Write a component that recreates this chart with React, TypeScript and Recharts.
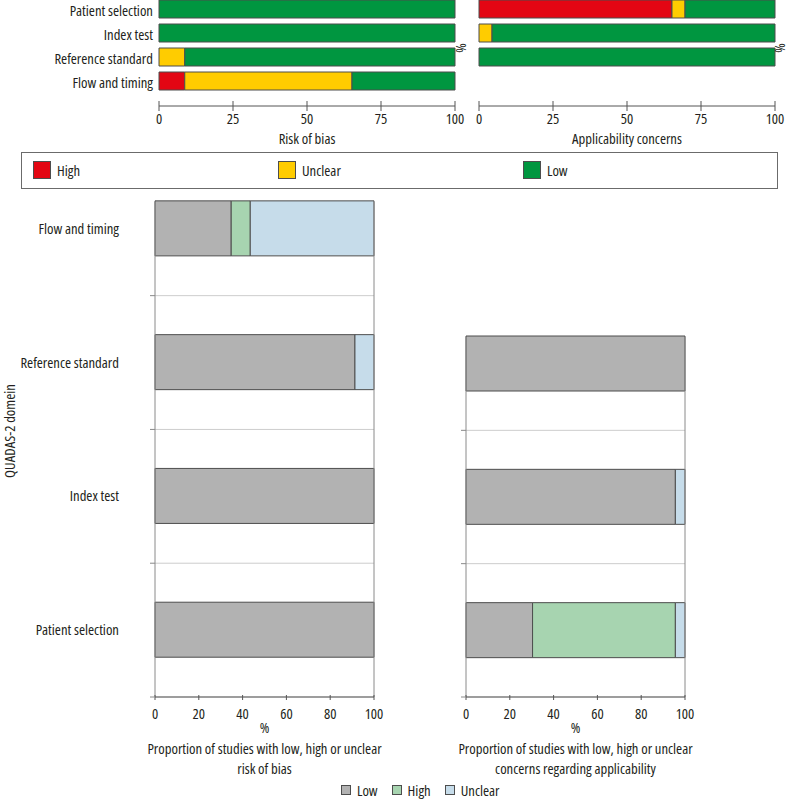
import React from 'react';
import { BarChart, Bar, XAxis, YAxis, CartesianGrid, Legend, ReferenceLine, Label } from 'recharts';

const domains = ['Patient selection', 'Index test', 'Reference standard', 'Flow and timing'];

// risk of bias, % of studies (same order as domains)
const biasHigh = [0, 0, 0, 8.7];
const biasUnclear = [0, 0, 8.7, 56.5];
const biasLow = [100, 100, 91.3, 34.8];

// applicability concerns, % of studies (flow and timing not rated)
const applHigh = [65.2, 0, 0, 0];
const applUnclear = [4.4, 4.4, 0, 0];
const applLow = [30.4, 95.6, 100, 0];

const topTicks = [0, 25, 50, 75, 100];
const bottomTicks = [0, 20, 40, 60, 80, 100];

const FONT = '"Open Sans", "Liberation Sans", sans-serif';
const INK = '#231f20';
const EDGE = '#4d4d4d';
const AXIS = '#555';
const SOFT_AXIS = '#8a8a8a';
const GRID = '#cdcdcd';
const FS = 14.7;

const RED = '#e30613';
const YELLOW = '#ffcc00';
const GREEN = '#009640';
const GREY = '#b2b2b2';
const PALE_GREEN = '#a7d4b0';
const PALE_BLUE = '#c6dcea';

const biasRows = domains.map((d, i) => ({ domain: d, pos: i, high: biasHigh[i], unclear: biasUnclear[i], low: biasLow[i] }));
const applRows = domains.map((d, i) => ({ domain: d, pos: i, high: applHigh[i], unclear: applUnclear[i], low: applLow[i] }));
const applRowsBottom = applRows.slice(0, 3);

// band edges + band centres for the numeric domain axis
const bandTicks = (n: number) => Array.from({ length: n }, (_, i) => [i - 0.5, i]).flat();

const TopTick = (props: any) => {
  const { x, y, payload } = props;
  return (
    <g>
      <line x1={x} x2={x} y1={y - 5} y2={y + 5} stroke={AXIS} />
      <text x={x} y={y + 18} textAnchor="middle" fontSize={FS} fill={INK}>
        {payload.value}
      </text>
    </g>
  );
};

const BottomTick = (props: any) => {
  const { x, y, payload } = props;
  return (
    <g>
      <line x1={x} x2={x} y1={y - 2} y2={y + 3} stroke={AXIS} />
      <text x={x} y={y + 22} textAnchor="middle" fontSize={FS} fill={INK}>
        {payload.value}
      </text>
    </g>
  );
};

const makeDomainTick = (names: string[] | null) => (props: any) => {
  const { x, y, payload } = props;
  const v = payload.value;
  if (Number.isInteger(v)) {
    if (!names) return <g />;
    return (
      <text x={x - 36} y={y + 5} textAnchor="end" fontSize={FS} fill={INK}>
        {names[v]}
      </text>
    );
  }
  return <line x1={x - 5} x2={x} y1={y} y2={y} stroke={SOFT_AXIS} />;
};

const titleBlock = (lines: string[]) => (props: any) => {
  const { x, y, width } = props.viewBox;
  const cx = x + width / 2;
  return (
    <g fontSize={FS} fill={INK} textAnchor="middle">
      <text x={cx} y={y + 36}>%</text>
      {lines.map((l, i) => (
        <text key={i} x={cx} y={y + 57 + i * 20}>
          {l}
        </text>
      ))}
    </g>
  );
};

const orderBy = (payload: any[], names: string[]) =>
  [...(payload || [])].sort((a, b) => names.indexOf(a.value) - names.indexOf(b.value));

const BoxLegend = (props: any) => {
  const items = orderBy(props.payload, ['High', 'Unclear', 'Low']);
  return (
    <div style={{ position: 'relative', width: 757, height: 37, boxSizing: 'border-box', border: '1px solid #6b6b6b', fontSize: FS, color: INK }}>
      {items.map((p, i) => (
        <div key={p.value} style={{ position: 'absolute', left: 11 + i * 245, top: 8, display: 'flex', alignItems: 'center', height: 18 }}>
          <span style={{ width: 18, height: 18, boxSizing: 'border-box', background: p.color, border: `1px solid ${EDGE}` }} />
          <span style={{ marginLeft: 6 }}>{p.value}</span>
        </div>
      ))}
    </div>
  );
};

const SmallLegend = (props: any) => {
  const items = orderBy(props.payload, ['Low', 'High', 'Unclear']);
  return (
    <div style={{ display: 'flex', alignItems: 'center', gap: 14, fontSize: FS, color: INK, lineHeight: '16px' }}>
      {items.map((p) => (
        <div key={p.value} style={{ display: 'flex', alignItems: 'center' }}>
          <span style={{ width: 10, height: 10, boxSizing: 'border-box', background: p.color, border: `1px solid ${EDGE}` }} />
          <span style={{ marginLeft: 6 }}>{p.value}</span>
        </div>
      ))}
    </div>
  );
};

const topBars = [
  <Bar key="h" dataKey="high" name="High" stackId="s" fill={RED} stroke={EDGE} barSize={18} isAnimationActive={false} />,
  <Bar key="u" dataKey="unclear" name="Unclear" stackId="s" fill={YELLOW} stroke={EDGE} barSize={18} isAnimationActive={false} />,
  <Bar key="l" dataKey="low" name="Low" stackId="s" fill={GREEN} stroke={EDGE} barSize={18} isAnimationActive={false} />,
];

const bottomBars = [
  <Bar key="l" dataKey="low" name="Low" stackId="s" fill={GREY} stroke={EDGE} barSize={55} isAnimationActive={false} />,
  <Bar key="h" dataKey="high" name="High" stackId="s" fill={PALE_GREEN} stroke={EDGE} barSize={55} isAnimationActive={false} />,
  <Bar key="u" dataKey="unclear" name="Unclear" stackId="s" fill={PALE_BLUE} stroke={EDGE} barSize={55} isAnimationActive={false} />,
];

const labelStyle = { fontSize: FS, fill: INK };

const RotatedText = ({ text, cx, cy, angle, w }: { text: string; cx: number; cy: number; angle: number; w: number }) => (
  <div
    style={{
      position: 'absolute',
      left: cx - w / 2,
      top: cy - 8,
      width: w,
      height: 16,
      lineHeight: '16px',
      textAlign: 'center',
      transform: `rotate(${angle}deg)`,
      fontSize: FS,
      color: INK,
    }}
  >
    {text}
  </div>
);

const css = `
#qd-root, #qd-root text, #qd-root div, #qd-root span {
  font-family: ${FONT};
  font-stretch: 75%;
}
`;

export default function App() {
  return (
    <div id="qd-root" style={{ position: 'absolute', left: 0, top: 0, width: 791, height: 799, background: '#fff', overflow: 'hidden' }}>
      <style>{css}</style>
      {/* risk of bias, summary bars */}
      <div style={{ position: 'absolute', left: 0, top: -3 }}>
        <BarChart width={470} height={156} data={biasRows} layout="vertical" margin={{ top: 0, right: 15, bottom: 6, left: 0 }}>
          <XAxis type="number" domain={[0, 100]} ticks={topTicks} interval={0} tickSize={0} tickMargin={0} tick={TopTick} axisLine={{ stroke: AXIS }} height={41}>
            <Label value="Risk of bias" position="insideBottom" offset={3} {...labelStyle} />
          </XAxis>
          <YAxis
            type="category"
            dataKey="domain"
            width={159}
            padding={{ top: 0, bottom: 13 }}
            axisLine={false}
            tickLine={false}
            tickSize={0}
            tickMargin={6}
            interval={0}
            tick={{ fontSize: FS, fill: INK, dy: 2 }}
          />
          {topBars}
          <Legend content={BoxLegend} layout="horizontal" verticalAlign="middle" align="center" wrapperStyle={{ left: 21, top: 155, width: 757, height: 37 }} />
        </BarChart>
      </div>

      {/* applicability concerns, summary bars */}
      <div style={{ position: 'absolute', left: 470, top: -3 }}>
        <BarChart width={321} height={156} data={applRows} layout="vertical" margin={{ top: 0, right: 16, bottom: 6, left: 9 }}>
          <XAxis type="number" domain={[0, 100]} ticks={topTicks} interval={0} tickSize={0} tickMargin={0} tick={TopTick} axisLine={{ stroke: AXIS }} height={41}>
            <Label value="Applicability concerns" position="insideBottom" offset={3} {...labelStyle} />
          </XAxis>
          <YAxis type="category" dataKey="domain" hide padding={{ top: 0, bottom: 13 }} />
          {topBars}
        </BarChart>
      </div>

      <RotatedText text="%" cx={462} cy={48} angle={90} w={20} />
      <RotatedText text="%" cx={781} cy={48} angle={90} w={20} />
      <RotatedText text="QUADAS-2 domein" cx={8.5} cy={431} angle={-90} w={130} />

      {/* proportion of studies, risk of bias */}
      <div style={{ position: 'absolute', left: 0, top: 190 }}>
        <BarChart width={400} height={609} data={biasRows} layout="vertical" margin={{ top: 12, right: 26, bottom: 24, left: 0 }}>
          <CartesianGrid vertical={false} stroke={GRID} />
          <XAxis type="number" domain={[0, 100]} ticks={bottomTicks} interval={0} tickSize={0} tickMargin={0} tick={BottomTick} axisLine={{ stroke: AXIS }} height={78}>
            <Label content={titleBlock(['Proportion of studies with low, high or unclear', 'risk of bias'])} />
          </XAxis>
          <YAxis
            type="number"
            dataKey="pos"
            domain={[-0.5, 3.2]}
            reversed
            ticks={bandTicks(4)}
            interval={0}
            tickSize={0}
            tickMargin={0}
            tickLine={false}
            tick={makeDomainTick(domains)}
            axisLine={{ stroke: SOFT_AXIS }}
            width={155}
          />
          <ReferenceLine x={100} stroke={SOFT_AXIS} />
          {bottomBars}
          <Legend content={SmallLegend} layout="horizontal" verticalAlign="middle" align="center" wrapperStyle={{ left: 341, top: 592, width: 230, height: 16 }} />
        </BarChart>
      </div>

      {/* proportion of studies, applicability */}
      <div style={{ position: 'absolute', left: 400, top: 190 }}>
        <BarChart width={391} height={609} data={applRowsBottom} layout="vertical" margin={{ top: 147, right: 106, bottom: 24, left: 0 }}>
          <CartesianGrid vertical={false} stroke={GRID} />
          <XAxis type="number" domain={[0, 100]} ticks={bottomTicks} interval={0} tickSize={0} tickMargin={0} tick={BottomTick} axisLine={{ stroke: AXIS }} height={78}>
            <Label content={titleBlock(['Proportion of studies with low, high or unclear', 'concerns regarding applicability'])} />
          </XAxis>
          <YAxis
            type="number"
            dataKey="pos"
            domain={[-0.5, 2.2]}
            reversed
            ticks={bandTicks(3)}
            interval={0}
            tickSize={0}
            tickMargin={0}
            tickLine={false}
            tick={makeDomainTick(null)}
            axisLine={{ stroke: SOFT_AXIS }}
            width={66}
          />
          <ReferenceLine x={100} stroke={SOFT_AXIS} />
          {bottomBars}
        </BarChart>
      </div>
    </div>
  );
}
